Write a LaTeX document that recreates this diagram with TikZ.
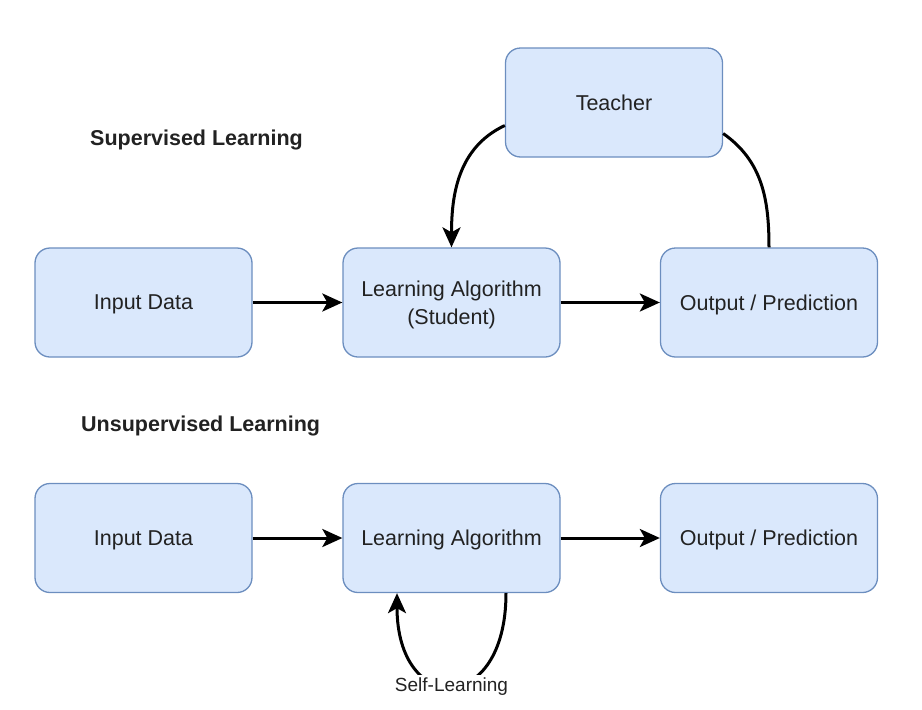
\documentclass[tikz,border=0pt]{standalone}
\usepackage{fontspec}
\setmainfont{Liberation Sans}
\usepackage{xcolor}
\usetikzlibrary{calc}
\usetikzlibrary{arrows.meta}
\definecolor{boxfill}{HTML}{DAE8FC}
\definecolor{boxline}{HTML}{6C8EBF}
\definecolor{ink}{HTML}{222222}
\tikzset{box/.style={draw=boxline, fill=boxfill, line width=1.3pt, rounded corners=15pt,
    minimum width=217pt, minimum height=109pt, align=center, text=ink, text depth=0pt,
    font=\fontsize{21.5}{28}\selectfont}}
\tikzset{conn/.style={line width=3pt, -{Stealth[length=20pt,width=18pt,inset=5pt]}}}
\tikzset{title/.style={anchor=west, text=ink, inner sep=0, font=\bfseries\fontsize{21.5}{24}\selectfont}}

\begin{document}
\begin{tikzpicture}[x=1pt, y=-1pt]
\useasboundingbox (0,0) rectangle (922,710);
\node[title] (suptitle) at (90,140) {Supervised Learning};
\node[title] (unsuptitle) at (81,426) {Unsupervised Learning};
\node[box] (teacher) at (614,102.5) {Teacher};
\node[box] (input1) at (143.5,302.5) {Input Data};
\node[box] (learn1) at (451.5,302.5) {Learning Algorithm\\(Student)};
\node[box] (output1) at (769,302.5) {Output / Prediction};
\node[box] (input2) at (143.5,538) {Input Data};
\node[box] (learn2) at (451.5,538) {Learning Algorithm};
\node[box] (output2) at (769,538) {Output / Prediction};
\draw[conn] (input1) -- (learn1);
\draw[conn] (learn1) -- (output1);
\draw[conn] ([yshift=-23pt]teacher.west) to[out=205, in=90] (learn1.north);
\draw[line width=3pt] (output1.north) to[out=90, in=-35] ([yshift=-31pt]teacher.east);
\draw[conn] (input2) -- (learn2);
\draw[conn] (learn2) -- (output2);
\draw[conn] ([xshift=54.5pt]learn2.south) .. controls +(0,123) and +(0,123) ..
  node[fill=white, inner sep=3pt, yshift=-1pt, text=ink, font=\fontsize{19}{22}\selectfont] (selflabel) {Self-Learning}
  ([xshift=-54.5pt]learn2.south);
\end{tikzpicture}
\end{document}
